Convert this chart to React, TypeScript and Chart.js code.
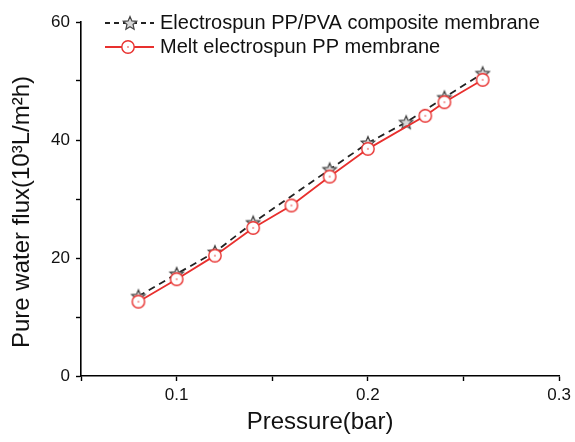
import React, { useEffect, useRef } from "react";
import { Chart, registerables } from "chart.js";

Chart.register(...registerables);

const starPressure = [0.08, 0.10, 0.12, 0.14, 0.18, 0.20, 0.22, 0.24, 0.26];
const starFlux = [13.5, 17.3, 21.0, 26.0, 35.0, 39.5, 43.0, 47.2, 51.3];
const circlePressure = [0.08, 0.10, 0.12, 0.14, 0.16, 0.18, 0.20, 0.23, 0.24, 0.26];
const circleFlux = [12.6, 16.4, 20.4, 25.1, 28.9, 33.8, 38.5, 44.1, 46.4, 50.2];
const xLabels = [0.1, 0.2, 0.3];
const yLabels = [0, 20, 40, 60];
const seriesNames = ["Electrospun PP/PVA composite membrane", "Melt electrospun PP membrane"];
const yTitle = "Pure water flux(10\u00B3L/m\u00B2h)";
const xTitle = "Pressure(bar)";

const FONT = "'Liberation Sans', Arial, sans-serif";
const RED = "#e8302e";
const DARK = "#222222";

function makeStar(): HTMLCanvasElement {
  const c = document.createElement("canvas");
  c.width = 18;
  c.height = 18;
  const ctx = c.getContext("2d")!;
  ctx.beginPath();
  for (let i = 0; i < 10; i++) {
    const r = i % 2 === 0 ? 7 : 3.2;
    const a = -Math.PI / 2 + (i * Math.PI) / 5;
    const x = 9 + r * Math.cos(a);
    const y = 9.5 + r * Math.sin(a);
    if (i === 0) ctx.moveTo(x, y);
    else ctx.lineTo(x, y);
  }
  ctx.closePath();
  ctx.fillStyle = "#d8d8d8";
  ctx.fill();
  ctx.strokeStyle = "#444";
  ctx.lineWidth = 1.2;
  ctx.stroke();
  return c;
}

function makeCircle(): HTMLCanvasElement {
  const c = document.createElement("canvas");
  c.width = 16;
  c.height = 16;
  const ctx = c.getContext("2d")!;
  ctx.beginPath();
  ctx.arc(8, 8, 6.2, 0, Math.PI * 2);
  ctx.fillStyle = "#ffffff";
  ctx.fill();
  ctx.strokeStyle = RED;
  ctx.lineWidth = 1.4;
  ctx.stroke();
  ctx.beginPath();
  ctx.arc(8, 8, 0.8, 0, Math.PI * 2);
  ctx.fillStyle = RED;
  ctx.fill();
  return c;
}

export default function App() {
  const ref = useRef<HTMLCanvasElement | null>(null);

  useEffect(() => {
    if (!ref.current) return;
    const star = makeStar();
    const circle = makeCircle();

    const legendPlugin = {
      id: "insideLegend",
      afterDraw(chart: any) {
        const ctx = chart.ctx;
        ctx.save();
        const rows = [
          { y: 23, color: DARK, dash: [5, 4], img: star, mx: 130, name: seriesNames[0] },
          { y: 47, color: RED, dash: [], img: circle, mx: 128, name: seriesNames[1] },
        ];
        for (const r of rows) {
          ctx.beginPath();
          ctx.setLineDash(r.dash);
          ctx.strokeStyle = r.color;
          ctx.lineWidth = 1.8;
          ctx.moveTo(105, r.y);
          ctx.lineTo(154, r.y);
          ctx.stroke();
          ctx.setLineDash([]);
          ctx.drawImage(r.img, r.mx - r.img.width / 2, r.y - r.img.height / 2);
          ctx.fillStyle = "#111";
          ctx.font = `20px ${FONT}`;
          ctx.textBaseline = "middle";
          ctx.textAlign = "left";
          ctx.fillText(r.name, 160, r.y);
        }
        // y-axis title (Origin places it slightly below the plot centre)
        ctx.save();
        ctx.translate(28.5, 212);
        ctx.rotate(-Math.PI / 2);
        ctx.font = `24px ${FONT}`;
        ctx.textAlign = "center";
        ctx.textBaseline = "alphabetic";
        ctx.fillStyle = "#111";
        ctx.fillText(yTitle, 0, 0);
        ctx.restore();
        ctx.restore();
      },
    };

    const chart = new Chart(ref.current, {
      type: "line",
      data: {
        datasets: [
          {
            label: seriesNames[1],
            data: circlePressure.map((x, i) => ({ x, y: circleFlux[i] })),
            borderColor: RED,
            borderWidth: 1.8,
            pointStyle: circle as any,
            pointRadius: 6,
            fill: false,
            tension: 0,
          },
          {
            label: seriesNames[0],
            data: starPressure.map((x, i) => ({ x, y: starFlux[i] })),
            borderColor: DARK,
            borderWidth: 1.8,
            borderDash: [7, 5],
            pointStyle: star as any,
            pointRadius: 7,
            fill: false,
            tension: 0,
          },
        ],
      },
      options: {
        animation: false,
        responsive: false,
        events: [],
        layout: { padding: { top: 22, right: 14, left: 0, bottom: 0 } },
        plugins: { legend: { display: false }, tooltip: { enabled: false } },
        scales: {
          x: {
            type: "linear",
            min: 0.05,
            max: 0.3,
            afterFit(scale: any) {
              scale.height = 66;
            },
            border: { display: true, color: "#000", width: 1.6 },
            grid: { display: true, drawOnChartArea: false, drawTicks: true, tickLength: 5, tickColor: "#000", tickWidth: 1.4 },
            ticks: {
              stepSize: 0.05,
              autoSkip: false,
              maxRotation: 0,
              padding: 4,
              color: "#111",
              font: { family: FONT, size: 17 },
              callback: (v: any) => {
                const n = Number(v);
                const hit = xLabels.find((l) => Math.abs(l - n) < 1e-6);
                return hit !== undefined ? hit.toFixed(1) : "";
              },
            },
            title: {
              display: true,
              text: xTitle,
              color: "#111",
              font: { family: FONT, size: 24, lineHeight: 1.2 },
              padding: { top: 0, bottom: 5 },
            },
          },
          y: {
            type: "linear",
            min: 0,
            max: 60,
            afterFit(scale: any) {
              scale.width = 81;
            },
            border: { display: true, color: "#000", width: 1.6 },
            grid: { display: true, drawOnChartArea: false, drawTicks: true, tickLength: 5, tickColor: "#000", tickWidth: 1.4 },
            ticks: {
              stepSize: 10,
              autoSkip: false,
              padding: 6,
              color: "#111",
              font: { family: FONT, size: 17 },
              callback: (v: any) => {
                const n = Number(v);
                return yLabels.includes(n) ? String(n) : "";
              },
            },
            title: { display: false },
          },
        },
      },
      plugins: [legendPlugin],
    });
    return () => chart.destroy();
  }, []);

  return (
    <div style={{ position: "absolute", left: 0, top: 0, width: 575, height: 442, background: "#fff" }}>
      <canvas ref={ref} width={575} height={442} style={{ display: "block" }} />
    </div>
  );
}
